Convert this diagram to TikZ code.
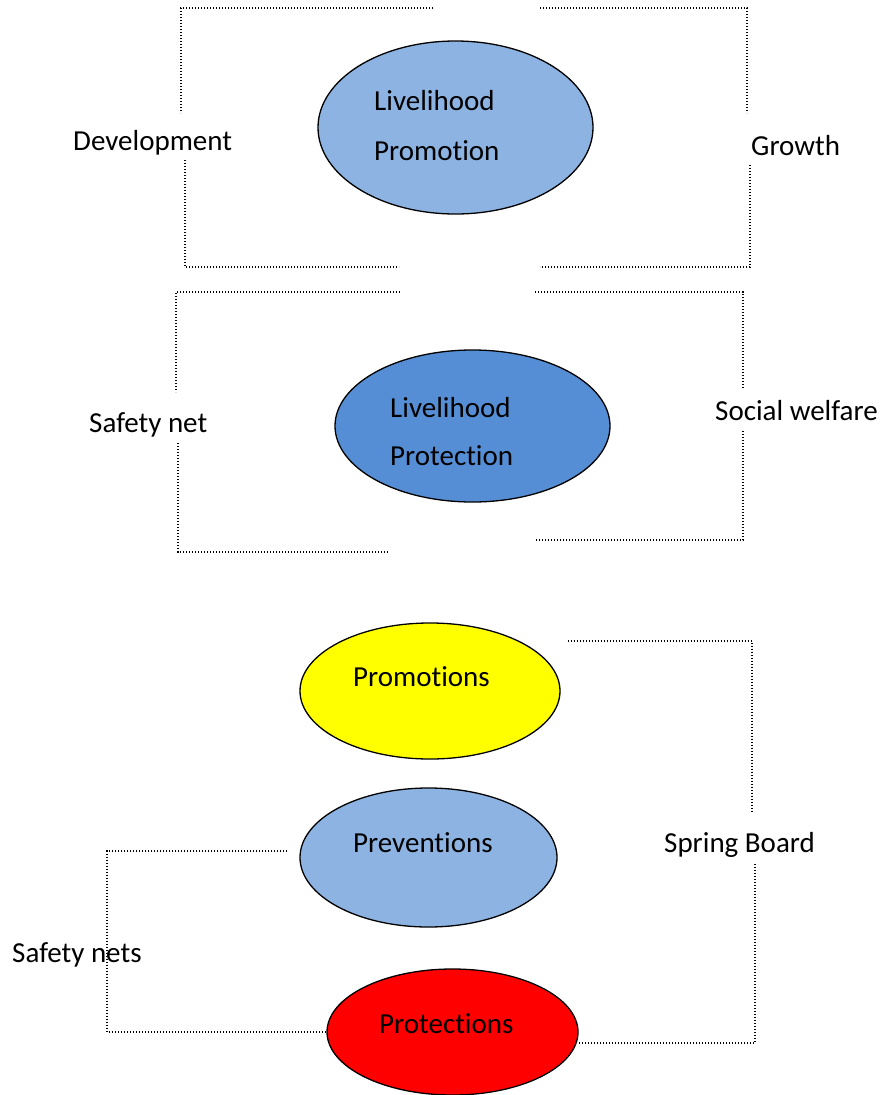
\documentclass[tikz,border=0pt]{standalone}
\usepackage{fontspec}
\setmainfont{Carlito}[Ligatures=NoCommon]
\usepackage{tikz}
\usetikzlibrary{positioning, shapes.geometric, calc}
\definecolor{lightblue}{RGB}{141,179,226}
\definecolor{midblue}{RGB}{85,142,213}
\definecolor{promoyellow}{RGB}{255,255,0}
\definecolor{protred}{RGB}{255,0,0}

\begin{document}
\begin{tikzpicture}[x=1pt, y=-1pt,
    oval/.style={ellipse, draw=black, line width=1.3pt, inner sep=0pt},
    lbl/.style={anchor=base west, inner sep=0pt, font=\fontsize{29}{34}\selectfont},
    dotline/.style={line width=1.2pt, dash pattern=on 1.2pt off 1.8pt}
]
    \useasboundingbox (0,0) rectangle (882,1095);

    % === BLOC 1 : Livelihood Promotion ===
    \node[oval, fill=lightblue, minimum width=275, minimum height=173] (lpromo) at (455.5,127.5) {};
    \node[lbl] (lpromo1) at (374,110) {Livelihood};
    \node[lbl] (lpromo2) at (374,160) {Promotion};
    \node[lbl] (devel) at (73,150) {Development};
    \node[lbl] (growth) at (751,155) {Growth};

    \draw[dotline] (433,8) -| (181,113);
    \draw[dotline] (185,160) |- (399,267);
    \draw[dotline] (540,8) -| (747,113);
    \draw[dotline] (750,165) |- (540,267);

    % === BLOC 2 : Livelihood Protection ===
    \node[oval, fill=midblue, minimum width=275, minimum height=152] (lprot) at (472.5,426) {};
    \node[lbl] (lprot1) at (390,417) {Livelihood};
    \node[lbl] (lprot2) at (390,465) {Protection};
    \node[lbl] (safety) at (89,432) {Safety net};
    \node[lbl] (welfare) at (715,420) {Social welfare};

    \draw[dotline] (400,292) -| (176,392);
    \draw[dotline] (178,443) |- (388,552);
    \draw[dotline] (535,292) -| (743,388);
    \draw[dotline] (743,431) |- (535,540);

    % === BLOC 3 : Promotions / Preventions / Protections ===
    \node[oval, fill=promoyellow, minimum width=260, minimum height=136] (prom) at (430,691) {};
    \node[lbl] (promt) at (353,686) {Promotions};
    \node[oval, fill=lightblue, minimum width=257, minimum height=139] (prev) at (428.5,857.5) {};
    \node[lbl] (prevt) at (353,852) {Preventions};
    \node[oval, fill=protred, minimum width=251, minimum height=126] (prot) at (452.5,1032) {};
    \node[lbl] (prott) at (379,1033) {Protections};

    \node[lbl] (spring) at (664,852) {Spring Board};
    \node[lbl] (nets) at (12,962) {Safety nets};

    % Spring Board
    \draw[dotline] ([shift={(7,-50)}]prom.east) -| (752,813);
    \draw[dotline] (755,864) |- ([shift={(0,11)}]prot.east);

    % Safety nets
    \draw[dotline] ([shift={(-12,-6.5)}]prev.west) -| (107,960) |- (prot.west);

\end{tikzpicture}
\end{document}
